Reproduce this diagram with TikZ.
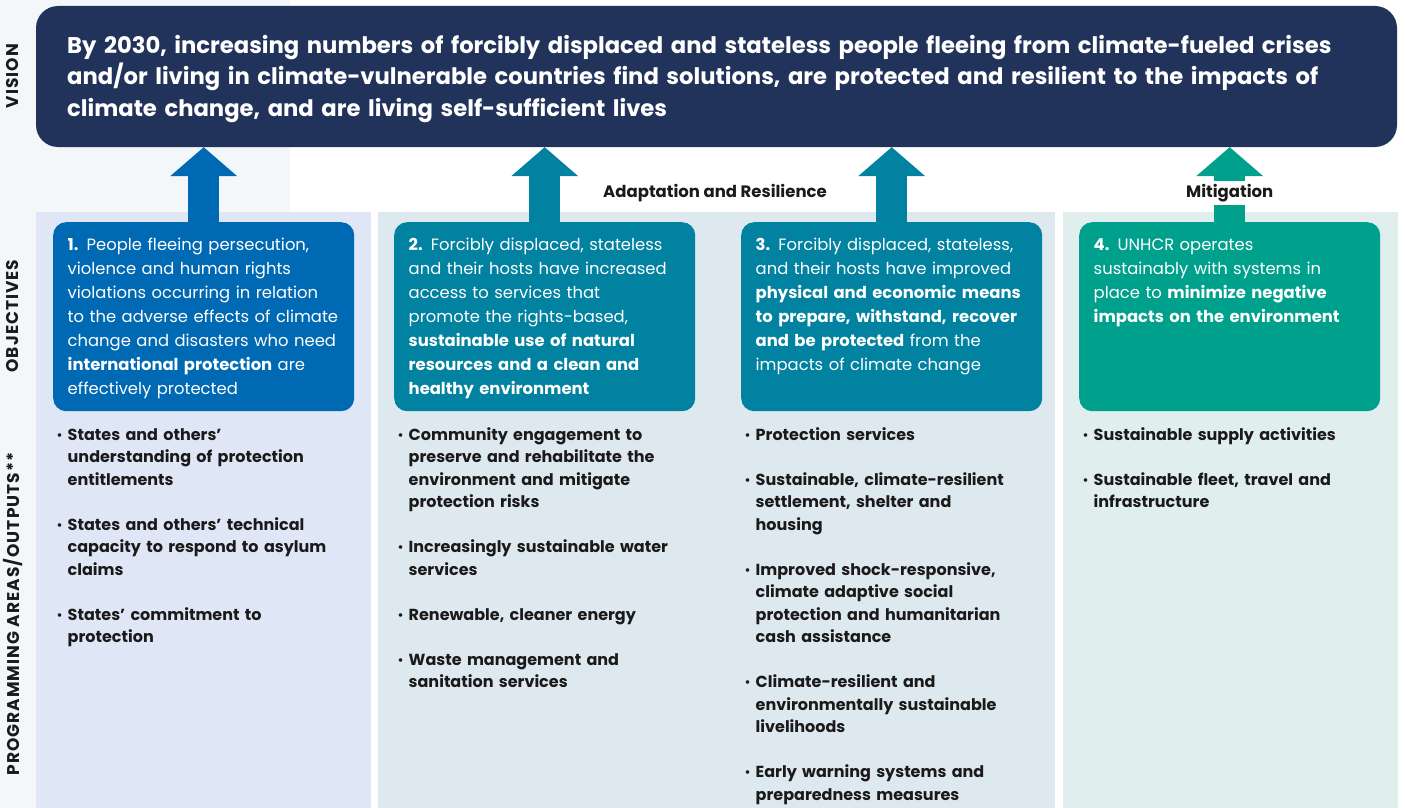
\documentclass[tikz,border=0pt]{standalone}
\usepackage{fontspec}
\setmainfont{Poppins}
\usetikzlibrary{calc,positioning,shapes,arrows.meta}
\definecolor{navy}{HTML}{22335B}
\definecolor{objblue}{HTML}{0069B4}
\definecolor{objteal}{HTML}{0082A0}
\definecolor{objgreen}{HTML}{00A18C}
\definecolor{bgleft}{HTML}{F3F7FA}
\definecolor{bgone}{HTML}{DFE6F5}
\definecolor{bgmid}{HTML}{DEE8EF}
\definecolor{bgfour}{HTML}{E1EEEE}
\definecolor{ink}{HTML}{1A1A1A}
\newcommand{\outitem}[1]{{\let\\\newline\noindent\hangindent=11pt\hangafter=1\makebox[11pt][l]{\raisebox{1pt}{\fontsize{12}{12}\selectfont •}}#1\par}\vspace{22.5pt}}

\begin{document}
\begin{tikzpicture}[x=1pt,y=-1pt,
  visbox/.style={fill=navy,rounded corners=22pt,minimum width=1361pt,minimum height=141pt,inner sep=0pt},
  vistext/.style={text=white,font=\fontsize{22.7}{31.5}\selectfont\bfseries,text width=1320pt,anchor=base west,inner sep=0pt},
  objbox/.style={rounded corners=13pt,minimum width=301pt,minimum height=189pt,anchor=north west,inner sep=0pt},
  objtext/.style={text=white,font=\fontsize{16.4}{24}\selectfont,text width=285pt,anchor=base west,inner sep=0pt},
  outlist/.style={text=ink,font=\fontsize{16}{22.5}\selectfont\bfseries,text width=320pt,anchor=base west,inner sep=0pt},
  rowlabel/.style={rotate=90,text=ink,font=\fontsize{17}{17}\selectfont\bfseries\addfontfeature{LetterSpace=6}},
  grouplabel/.style={text=ink,font=\fontsize{16.5}{17}\selectfont\bfseries},
  blockarrow/.style={line width=31pt,-{Triangle[width=67pt,length=29pt,line width=0pt]}}]
\useasboundingbox (0,0) rectangle (1405,808);
\fill[white] (0,0) rectangle (1405,808);
\fill[bgleft] (0,0) rectangle (290,808);
\fill[bgone] (36,212) rectangle (371,808);
\fill[bgmid] (378,212) rectangle (1055,808);
\fill[bgfour] (1063,212) rectangle (1398,808);

\node[visbox] (vis) at (716.5,76.5) {};
\node[objbox,fill=objblue] (obj1) at (53,222) {};
\node[objbox,fill=objteal] (obj2) at (394,222) {};
\node[objbox,fill=objteal] (obj3) at (741,222) {};
\node[objbox,fill=objgreen] (obj4) at (1079,222) {};

\draw[blockarrow,objblue] (obj1.north) -- (obj1.north |- vis.south);
\draw[blockarrow,objteal] (obj2.north) -- (obj2.north |- vis.south);
\draw[blockarrow,objteal] (obj3.north) -- (obj3.north |- vis.south);
\draw[blockarrow,objgreen] (obj4.north) -- (obj4.north |- vis.south);

\node[vistext] (vistxt) at (67,53.5) {By 2030, increasing numbers of forcibly displaced and stateless people fleeing from climate-fueled crises\\
  and/or living in climate-vulnerable countries find solutions, are protected and resilient to the impacts of\\
  climate change, and are living self-sufficient lives};

\node[objtext] (obj1txt) at ([shift={(14.5,28.5)}]obj1.north west) {\textbf{1.} People fleeing persecution,\\ violence and human rights\\ violations occurring in relation\\ to the adverse effects of climate\\ change and disasters who need\\ \textbf{international protection} are\\ effectively protected};
\node[objtext] (obj2txt) at ([shift={(14.5,28.5)}]obj2.north west) {\textbf{2.} Forcibly displaced, stateless\\ and their hosts have increased\\ access to services that\\ promote the rights-based,\\ \textbf{sustainable use of natural\\ resources and a clean and\\ healthy environment}};
\node[objtext] (obj3txt) at ([shift={(14.5,28.5)}]obj3.north west) {\textbf{3.} Forcibly displaced, stateless,\\ and their hosts have improved\\ \textbf{physical and economic means\\ to prepare, withstand, recover\\ and be protected} from the\\ impacts of climate change};
\node[objtext] (obj4txt) at ([shift={(14.5,28.5)}]obj4.north west) {\textbf{4.} UNHCR operates\\ sustainably with systems in\\ place to \textbf{minimize negative\\ impacts on the environment}};

\node[outlist] (out1) at ([shift={(3.5,29)}]obj1.south west) {%
  \outitem{States and others’\\ understanding of protection\\ entitlements}
  \outitem{States and others’ technical\\ capacity to respond to asylum\\ claims}
  \outitem{States’ commitment to\\ protection}};
\node[outlist] (out2) at ([shift={(3.5,29)}]obj2.south west) {%
  \outitem{Community engagement to\\ preserve and rehabilitate the\\ environment and mitigate\\ protection risks}
  \outitem{Increasingly sustainable water\\ services}
  \outitem{Renewable, cleaner energy}
  \outitem{Waste management and\\ sanitation services}};
\node[outlist] (out3) at ([shift={(3.5,29)}]obj3.south west) {%
  \outitem{Protection services}
  \outitem{Sustainable, climate-resilient\\ settlement, shelter and\\ housing}
  \outitem{Improved shock-responsive,\\ climate adaptive social\\ protection and humanitarian\\ cash assistance}
  \outitem{Climate-resilient and\\ environmentally sustainable\\ livelihoods}
  \outitem{Early warning systems and\\ preparedness measures}};
\node[outlist] (out4) at ([shift={(3.5,29)}]obj4.south west) {%
  \outitem{Sustainable supply activities}
  \outitem{Sustainable fleet, travel and\\ infrastructure}};

\node[rowlabel] (rvis) at (13,76) {VISION};
\node[rowlabel] (robj) at (13,316) {OBJECTIVES};
\node[rowlabel] (rprog) at (13,614) {PROGRAMMING AREAS/OUTPUTS**};
\node[grouplabel] (adapt) at (715,193) {Adaptation and Resilience};
\node[grouplabel,fill=white,inner ysep=3pt] (mitig) at (obj4.north |- adapt) {Mitigation};
\end{tikzpicture}
\end{document}
